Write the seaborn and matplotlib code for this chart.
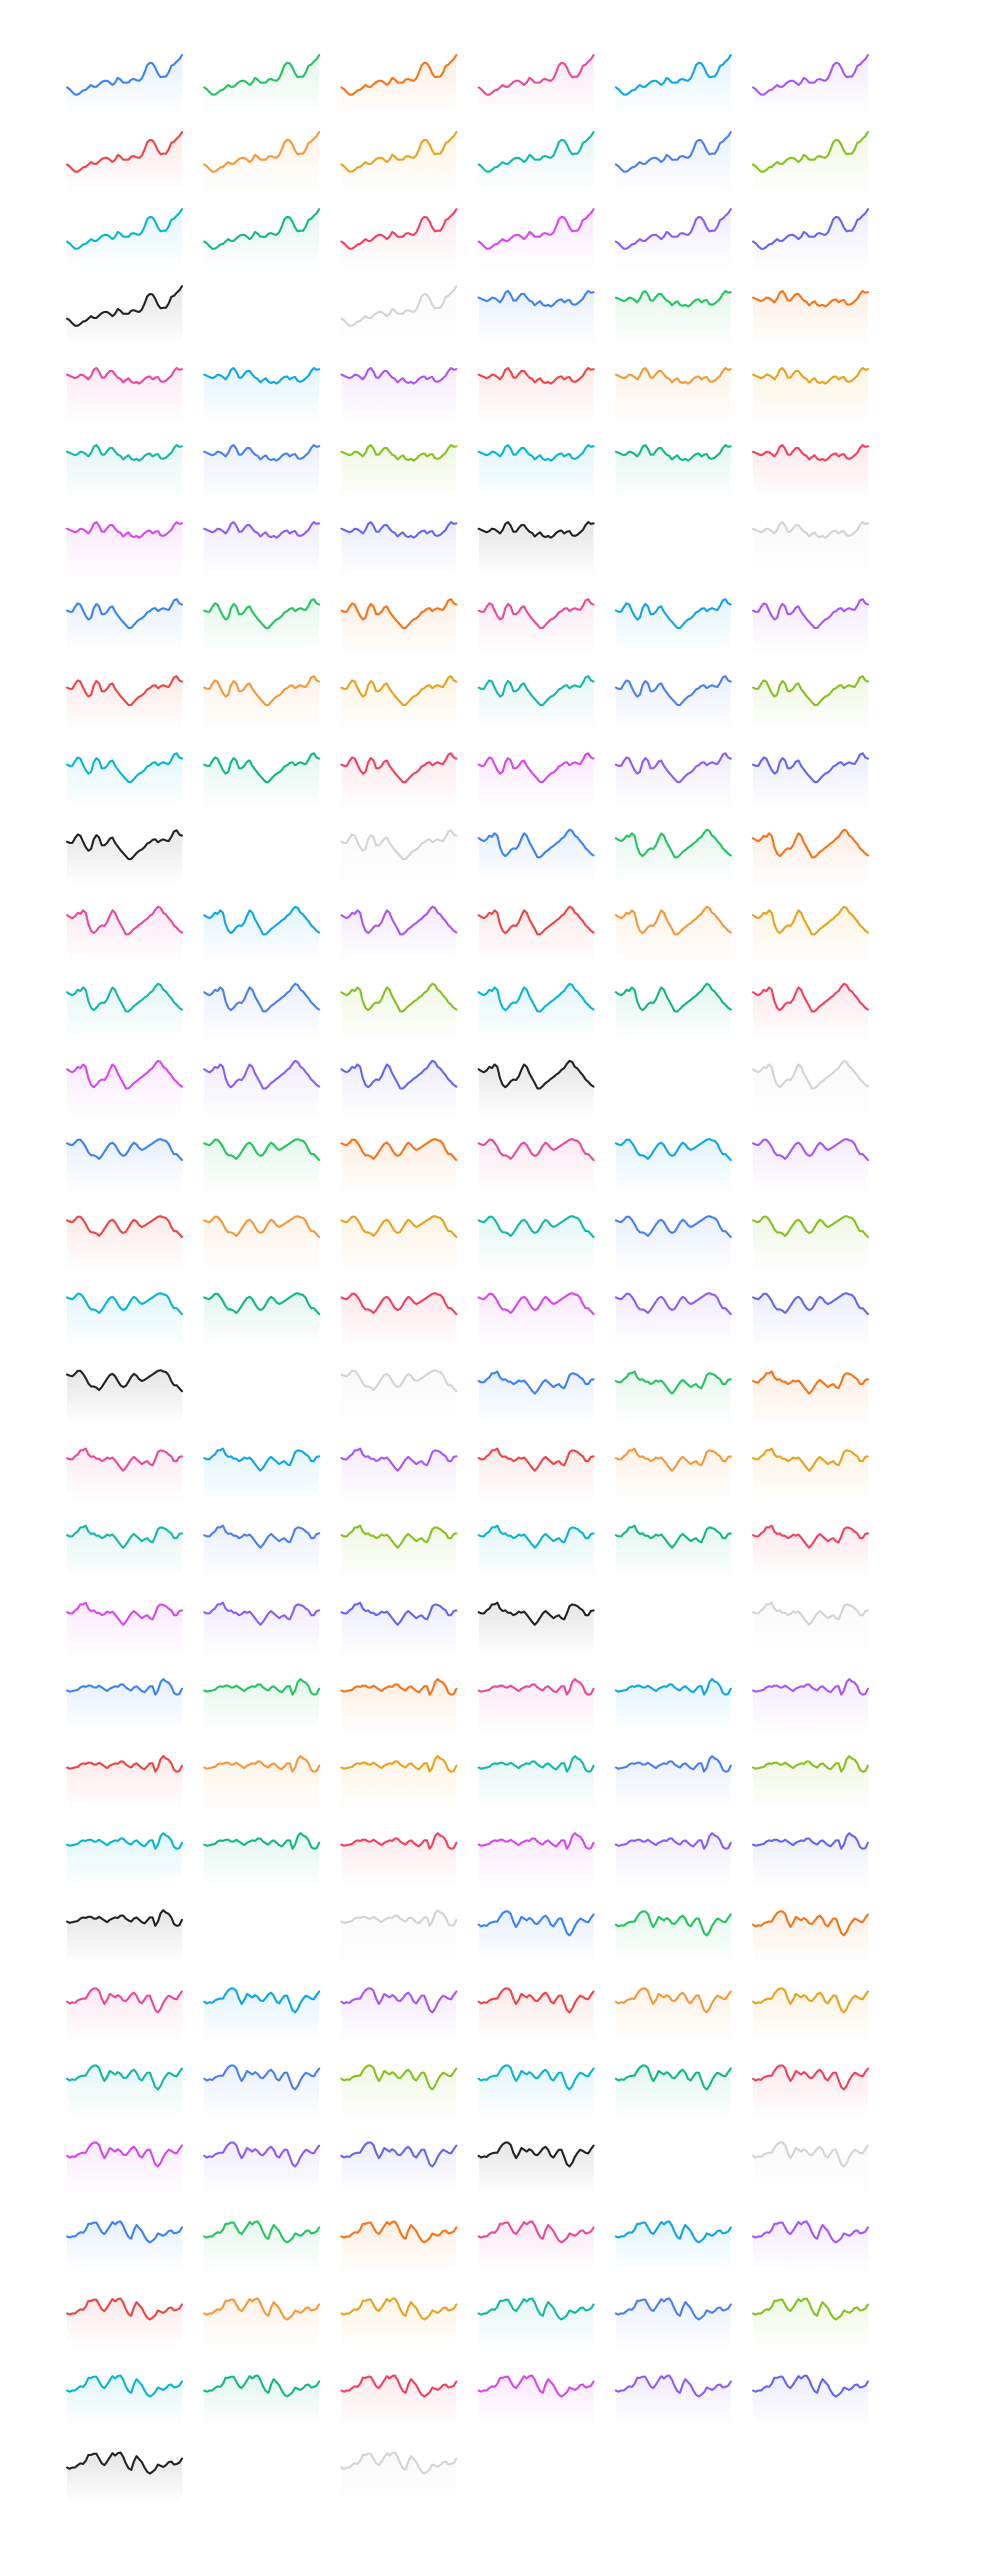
import numpy as np
import pandas as pd
import matplotlib
matplotlib.use("Agg")
import matplotlib.pyplot as plt
import seaborn as sns
from matplotlib.colors import to_rgb

# nine sparkline datasets (0 = chart bottom, 100 = chart top)
TREND_UP = [46, 43, 38, 34, 34, 37, 41, 42, 46, 50, 47, 47, 51, 55, 57, 57, 54, 50, 54, 62, 59, 54,
            54, 54, 59, 60, 58, 57, 61, 71, 83, 87, 86, 79, 69, 63, 64, 64, 71, 82, 84, 89, 93, 100]
FLAT_WIGGLE = [81, 79, 77, 75, 77, 81, 80, 77, 73, 79, 89, 92, 86, 76, 76, 82, 87, 87, 81, 76, 74, 68,
               72, 75, 69, 67, 69, 66, 69, 74, 77, 78, 73, 76, 77, 70, 69, 71, 75, 79, 87, 92, 89, 90]
DIP_MIDDLE = [73, 71, 71, 79, 85, 83, 73, 64, 58, 61, 77, 84, 80, 67, 67, 71, 78, 80, 71, 65, 59, 54,
              49, 44, 44, 49, 54, 58, 60, 64, 70, 72, 76, 77, 72, 75, 77, 75, 74, 81, 90, 92, 85, 83]
TWO_PEAKS = [79, 76, 74, 77, 83, 81, 87, 83, 64, 53, 49, 53, 59, 62, 61, 67, 78, 87, 83, 72, 64, 56,
             47, 47, 51, 56, 59, 63, 66, 70, 73, 78, 81, 88, 93, 91, 83, 80, 74, 69, 62, 58, 53, 50]
WAVES = [84, 82, 81, 85, 90, 90, 85, 78, 69, 64, 64, 62, 58, 63, 70, 77, 83, 85, 81, 73, 66, 63,
         65, 72, 80, 85, 82, 76, 73, 75, 78, 81, 84, 87, 90, 91, 89, 88, 83, 73, 66, 66, 61, 56]
WIDE_DIP = [73, 71, 71, 76, 79, 86, 86, 89, 79, 75, 76, 72, 72, 68, 70, 74, 72, 74, 69, 63, 57, 52,
            57, 64, 71, 75, 71, 67, 63, 66, 68, 63, 61, 71, 83, 86, 85, 83, 79, 76, 68, 68, 75, 76]
LATE_SPIKE = [71, 69, 70, 71, 72, 76, 78, 77, 79, 79, 76, 76, 79, 76, 73, 70, 74, 76, 78, 77, 81, 81,
              76, 73, 71, 76, 78, 74, 70, 68, 73, 78, 78, 64, 71, 85, 90, 86, 84, 78, 67, 64, 65, 74]
CHOPPY = [66, 63, 65, 64, 68, 70, 71, 71, 79, 85, 88, 88, 84, 71, 62, 69, 79, 76, 73, 77, 74, 68,
          67, 72, 78, 81, 76, 66, 63, 70, 76, 76, 64, 52, 48, 54, 64, 71, 76, 74, 71, 70, 77, 83]
BUMPY = [60, 58, 60, 60, 64, 67, 66, 71, 81, 81, 83, 83, 75, 67, 64, 70, 77, 84, 80, 84, 85, 78,
         67, 59, 56, 70, 79, 74, 69, 60, 53, 50, 53, 57, 65, 63, 61, 64, 69, 70, 65, 66, 68, 75]

SERIES = [TREND_UP, FLAT_WIGGLE, DIP_MIDDLE, TWO_PEAKS, WAVES,
          WIDE_DIP, LATE_SPIKE, CHOPPY, BUMPY]

# 21 slots per dataset; None leaves an empty cell
COLORS = [
    "#3b82f6", "#22c55e", "#f97316", "#ec4899", "#0ea5e9", "#a855f7",
    "#ef4444", "#f5983a", "#e8a21c", "#14b8a6", "#4a7ff2", "#84c21c",
    "#06b6d4", "#10b981", "#f43f5e", "#d946ef", "#8b5cf6", "#6366f1",
    "#222222", None, "#d4d4d4",
]

FIG_W, FIG_H = 1000, 2560
N_COLS = 6
LEFT0, COL_STEP, CELL_W = 67, 137.2, 115
TOP0, ROW_STEP, CELL_H = 55, 77.05, 60


def draw_spark(ax, values, color):
    df = pd.DataFrame({"x": np.arange(len(values)), "y": values})
    sns.lineplot(data=df, x="x", y="y", color=color, lw=1.5, ax=ax,
                 solid_joinstyle="round", solid_capstyle="round", zorder=3)
    ax.lines[-1].set_clip_on(False)

    # gradient area under the line
    poly = ax.fill_between(df["x"], df["y"], 0, color="none", lw=0)
    grad = np.zeros((100, 1, 4))
    grad[..., :3] = to_rgb(color)
    grad[..., 3] = np.linspace(0.12, 0.0, 100)[:, None]
    im = ax.imshow(grad, aspect="auto", origin="upper", zorder=1,
                   extent=[0, len(values) - 1, 0, max(values)])
    im.set_clip_path(poly.get_paths()[0], transform=ax.transData)

    ax.set_xlim(0, len(values) - 1)
    ax.set_ylim(0, 100)
    ax.set_axis_off()


sns.set_theme(style="white")
fig = plt.figure(figsize=(FIG_W / 100, FIG_H / 100), dpi=100)
fig.patch.set_facecolor("white")

slot = 0
for values in SERIES:
    for color in COLORS:
        row, col = divmod(slot, N_COLS)
        slot += 1
        if color is None:
            continue
        left = LEFT0 + COL_STEP * col
        top = TOP0 + ROW_STEP * row
        ax = fig.add_axes([left / FIG_W, 1 - (top + CELL_H) / FIG_H,
                           CELL_W / FIG_W, CELL_H / FIG_H])
        draw_spark(ax, values, color)

fig.savefig("out.png", dpi=100, facecolor="white")
plt.close(fig)
